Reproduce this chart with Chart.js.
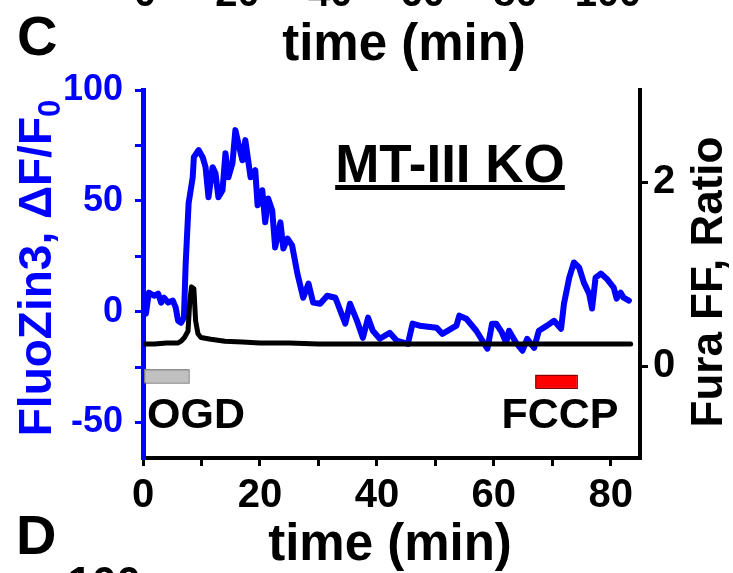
<!DOCTYPE html>
<html>
<head>
<meta charset="utf-8">
<script src="https://cdn.jsdelivr.net/npm/chart.js@4.4.1/dist/chart.umd.min.js"></script>
<style>
html, body { margin: 0; padding: 0; background: #fff; }
</style>
</head>
<body>
<canvas id="chart" width="733" height="573"></canvas>
<script>
// FluoZin3 trace (blue, left axis)
const blueTime = [0.5,1.0,1.9,2.6,3.1,3.6,4.3,5.1,5.6,6.0,6.5,7.0,7.3,7.8,8.5,8.7,9.5,10.2,10.7,11.2,11.9,12.4,12.9,13.6,14.1,14.6,15.3,15.8,16.3,17.0,17.5,18.4,19.2,19.6,20.4,20.9,21.4,22.1,22.6,23.5,24.0,24.7,25.5,26.4,27.4,28.3,29.1,30.3,31.5,32.9,34.6,35.4,36.6,37.6,38.5,39.3,40.5,42.2,43.4,45.3,46.1,47.3,50.2,51.2,53.6,54.1,55.3,57.0,58.9,59.7,60.4,61.4,62.1,62.6,63.8,64.9,65.7,66.9,67.7,69.1,70.3,71.5,72.0,72.9,73.7,74.6,75.4,76.3,76.8,77.4,78.3,79.3,80.5,81.0,81.7,82.2,83.1]
const fluoZin = [-0.9,8.6,7.2,8.1,4.1,6.3,4.1,5.0,1.8,-4.1,-5.0,-2.7,21.7,48.9,60.6,69.7,72.9,69.7,65.2,51.6,65.2,62.4,51.6,54.8,71.5,60.6,67.0,81.9,76.0,68.3,77.4,60.6,63.8,48.0,54.8,40.3,51.1,45.7,29.0,40.3,28.5,33.0,29.9,17.2,6.3,12.7,4.1,3.6,7.2,6.3,-5.4,3.6,-4.1,-11.8,-2.7,-8.6,-12.2,-9.5,-13.1,-14.5,-5.4,-6.3,-7.2,-10.0,-6.3,-1.8,-3.2,-8.6,-16.7,-5.4,-5.4,-9.5,-14.0,-8.6,-14.0,-17.6,-12.2,-16.3,-8.6,-6.3,-4.1,-7.7,3.6,15.4,22.2,19.9,13.1,8.1,1.4,15.4,17.2,14.9,10.9,5.9,8.6,6.3,5.0]

// Fura FF ratio (black, right axis)
const furaTime = [0.1,2,4,6,6.5,7.1,7.7,8.0,8.3,8.7,9.0,9.4,9.9,11.6,14,17,20,25,30,40,50,60,70,80,83.4]
const furaRatio = [0.24,0.24,0.25,0.25,0.27,0.31,0.38,0.70,0.86,0.84,0.49,0.35,0.31,0.29,0.27,0.26,0.25,0.25,0.24,0.24,0.24,0.24,0.24,0.24,0.24]

// axes
const timeTicks = [0,10,20,30,40,50,60,70,80]
const timeLabels = ['0','','20','','40','','60','','80']
const leftTicks = [-50,-25,0,25,50,75,100]
const leftLabels = ['-50','','0','','50','','100']
const rightTicks = [0,2]
const rightLabels = ['0','2']
const prevPanelLabels = ['0','20','40','60','80','100']

// treatment bars: [start, end] in min
const ogdSpan = [0.2, 7.8]
const fccpSpan = [67.1, 74.2]

const FONT = '"Liberation Sans", Arial, sans-serif'
const BLUE = '#0000ff'

const toPoints = (xs, ys) => xs.map((x, i) => ({x: x, y: ys[i]}))

const decorations = {
    id: 'decorations',
    afterDraw(chart) {
        const ctx = chart.ctx
        const x = chart.scales.x
        const yl = chart.scales.y
        ctx.save()

        // OGD and FCCP bars
        ctx.lineWidth = 1
        ctx.fillStyle = '#c0c0c0'
        ctx.strokeStyle = '#707070'
        let x0 = x.getPixelForValue(ogdSpan[0]), x1 = x.getPixelForValue(ogdSpan[1])
        let y0 = yl.getPixelForValue(-26), y1 = yl.getPixelForValue(-32)
        ctx.fillRect(x0, y0, x1 - x0, y1 - y0)
        ctx.strokeRect(x0 + 0.5, y0 + 0.5, x1 - x0, y1 - y0)
        ctx.fillStyle = '#ff0000'
        ctx.strokeStyle = '#700000'
        x0 = x.getPixelForValue(fccpSpan[0]); x1 = x.getPixelForValue(fccpSpan[1])
        y0 = yl.getPixelForValue(-28.5); y1 = yl.getPixelForValue(-34.4)
        ctx.fillRect(x0, y0, x1 - x0, y1 - y0)
        ctx.strokeRect(x0 + 0.5, y0 + 0.5, x1 - x0, y1 - y0)

        ctx.fillStyle = '#000'
        ctx.textBaseline = 'alphabetic'

        // bar labels
        ctx.font = 'bold 43px ' + FONT
        ctx.textAlign = 'left'
        ctx.fillText('OGD', 147, 428)
        ctx.textAlign = 'center'
        ctx.fillText('FCCP', 560, 428)

        // genotype label, underlined
        ctx.font = 'bold 53px ' + FONT
        ctx.fillText('MT-III KO', 450, 182)
        const w = ctx.measureText('MT-III KO').width
        ctx.fillRect(450 - w / 2, 185, w, 5)

        // panel letters
        ctx.font = 'bold 56px ' + FONT
        ctx.textAlign = 'left'
        ctx.fillText('C', 17, 55)
        ctx.fillText('D', 16, 554)

        // x title of this panel and the one above
        ctx.font = 'bold 51px ' + FONT
        ctx.textAlign = 'center'
        ctx.fillText('time (min)', 404, 60)
        ctx.fillText('time (min)', 390, 560)

        // cut-off tick labels of the neighbouring panels
        ctx.font = 'bold 40px ' + FONT
        prevPanelLabels.forEach((t, i) => ctx.fillText(t, 145 + i * 92.6, 6))
        ctx.font = 'bold 44px ' + FONT
        ctx.textAlign = 'right'
        ctx.fillText('100', 141, 598)

        // left axis title with subscript
        ctx.save()
        ctx.fillStyle = BLUE
        ctx.translate(51, 268)
        ctx.rotate(-Math.PI / 2)
        ctx.font = 'bold 46px ' + FONT
        const main = 'FluoZin3, \u0394F/F'
        const mw = ctx.measureText(main).width
        ctx.font = 'bold 31px ' + FONT
        const sw = ctx.measureText('0').width
        const total = mw + sw
        ctx.textAlign = 'left'
        ctx.font = 'bold 46px ' + FONT
        ctx.fillText(main, -total / 2, 0)
        ctx.font = 'bold 31px ' + FONT
        ctx.fillText('0', -total / 2 + mw, 9)
        ctx.restore()

        // right axis title
        ctx.save()
        ctx.translate(722, 282)
        ctx.rotate(-Math.PI / 2)
        ctx.font = 'bold 44px ' + FONT
        ctx.textAlign = 'center'
        ctx.fillText('Fura FF, Ratio', 0, 0)
        ctx.restore()

        ctx.restore()
    }
}

const setTicks = (values) => (scale) => { scale.ticks = values.map(v => ({value: v})) }

new Chart(document.getElementById('chart'), {
    type: 'line',
    data: {
        datasets: [
            {
                label: 'Fura FF',
                data: toPoints(furaTime, furaRatio),
                yAxisID: 'y2',
                borderColor: '#000',
                borderWidth: 5,
                pointRadius: 0,
                borderJoinStyle: 'round',
                borderCapStyle: 'round',
                order: 0
            },
            {
                label: 'FluoZin3',
                data: toPoints(blueTime, fluoZin),
                yAxisID: 'y',
                borderColor: BLUE,
                borderWidth: 6,
                pointRadius: 0,
                borderJoinStyle: 'round',
                borderCapStyle: 'round',
                order: 1
            }
        ]
    },
    options: {
        responsive: false,
        animation: false,
        devicePixelRatio: 1,
        layout: { padding: { top: 90, left: 0, right: 0, bottom: 0 } },
        plugins: { legend: { display: false }, tooltip: { enabled: false } },
        scales: {
            x: {
                type: 'linear',
                min: 0,
                max: 85,
                afterFit: s => { s.height = 115 },
                afterBuildTicks: setTicks(timeTicks),
                ticks: {
                    autoSkip: false,
                    maxRotation: 0,
                    color: '#000',
                    padding: 6,
                    font: { family: FONT, size: 40, weight: 'bold' },
                    callback: (v, i) => timeLabels[i]
                },
                grid: { drawOnChartArea: false, tickLength: 8, color: '#000', lineWidth: 3 },
                border: { color: '#000', width: 4 }
            },
            y: {
                position: 'left',
                min: -66,
                max: 100,
                afterFit: s => { s.width = 143 },
                afterBuildTicks: setTicks(leftTicks),
                ticks: {
                    autoSkip: false,
                    color: BLUE,
                    padding: 12,
                    font: { family: FONT, size: 36, weight: 'bold' },
                    callback: (v, i) => leftLabels[i]
                },
                grid: { drawOnChartArea: false, tickLength: 8, color: BLUE, lineWidth: 3 },
                border: { color: BLUE, width: 5 }
            },
            y2: {
                position: 'right',
                min: -1,
                max: 3,
                afterFit: s => { s.width = 93 },
                afterBuildTicks: setTicks(rightTicks),
                ticks: {
                    autoSkip: false,
                    color: '#000',
                    padding: 5,
                    font: { family: FONT, size: 40, weight: 'bold' },
                    callback: (v, i) => rightLabels[i]
                },
                grid: { drawOnChartArea: false, tickLength: 8, color: '#000', lineWidth: 3 },
                border: { color: '#000', width: 4 }
            }
        }
    },
    plugins: [decorations]
})
</script>
</body>
</html>
